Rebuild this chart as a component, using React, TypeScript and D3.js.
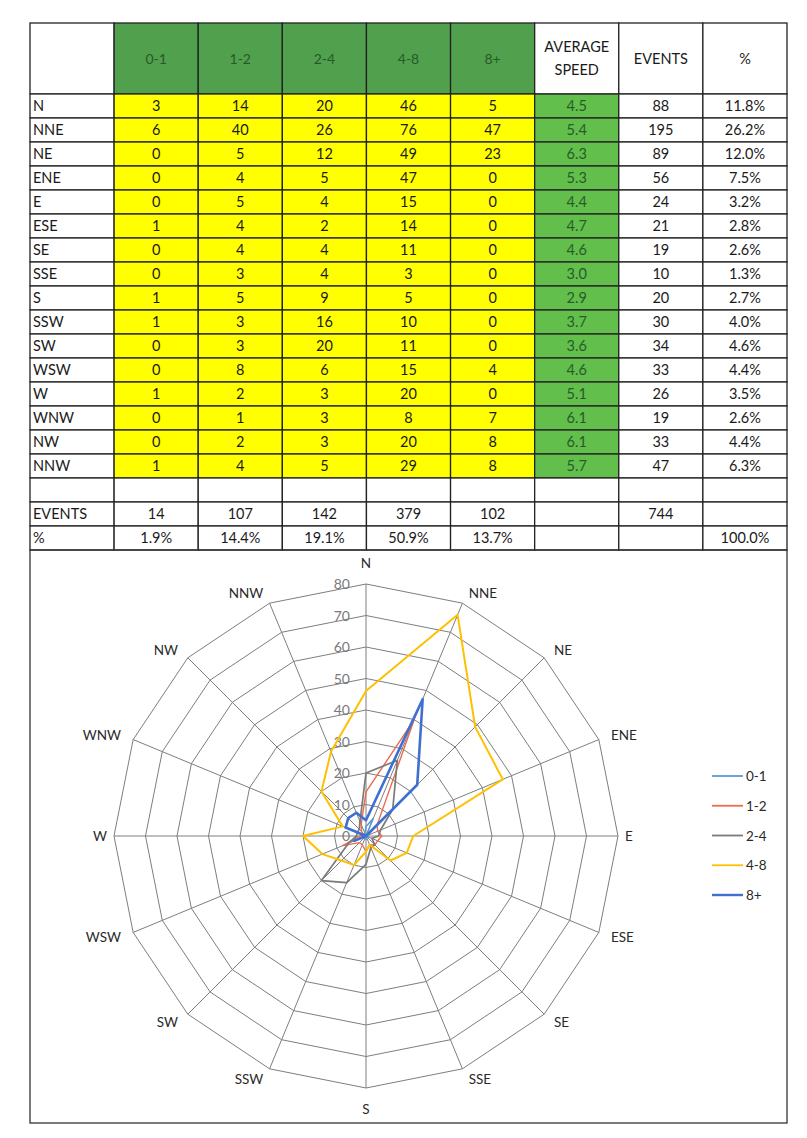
import React from 'react';
import * as d3 from 'd3';

// wind directions, clockwise from north
const directions = ['N', 'NNE', 'NE', 'ENE', 'E', 'ESE', 'SE', 'SSE', 'S', 'SSW', 'SW', 'WSW', 'W', 'WNW', 'NW', 'NNW'];
const speedBands = ['0-1', '1-2', '2-4', '4-8', '8+'];

const band01 = [3, 6, 0, 0, 0, 1, 0, 0, 1, 1, 0, 0, 1, 0, 0, 1];
const band12 = [14, 40, 5, 4, 5, 4, 4, 3, 5, 3, 3, 8, 2, 1, 2, 4];
const band24 = [20, 26, 12, 5, 4, 2, 4, 4, 9, 16, 20, 6, 3, 3, 3, 5];
const band48 = [46, 76, 49, 47, 15, 14, 11, 3, 5, 10, 11, 15, 20, 8, 20, 29];
const band8p = [5, 47, 23, 0, 0, 0, 0, 0, 0, 0, 0, 4, 0, 7, 8, 8];

const avgSpeed = ['4.5', '5.4', '6.3', '5.3', '4.4', '4.7', '4.6', '3.0', '2.9', '3.7', '3.6', '4.6', '5.1', '6.1', '6.1', '5.7'];
const events = [88, 195, 89, 56, 24, 21, 19, 10, 20, 30, 34, 33, 26, 19, 33, 47];
const percents = ['11.8%', '26.2%', '12.0%', '7.5%', '3.2%', '2.8%', '2.6%', '1.3%', '2.7%', '4.0%', '4.6%', '4.4%', '3.5%', '2.6%', '4.4%', '6.3%'];

const bandTotals = [14, 107, 142, 379, 102];
const bandPercents = ['1.9%', '14.4%', '19.1%', '50.9%', '13.7%'];
const totalEvents = 744;
const totalPercent = '100.0%';

const ringTicks = [0, 10, 20, 30, 40, 50, 60, 70, 80];

const seriesColors = ['#5B9BD5', '#ED6B4A', '#7A7A7A', '#FFC000', '#3F6FD0'];
const seriesWidths = [1.6, 1.4, 1.7, 2, 2.6];

const FONT = 'Lato, "Open Sans", sans-serif';

const App = () => {
  const series = [band01, band12, band24, band48, band8p];

  // ---- table layout
  const columns = ['label', ...speedBands, 'avg', 'events', 'pct'];
  const x = d3.scaleBand().domain(columns).range([30, 787]);
  const headerTop = 23;
  const headerBottom = 94;
  const rowKeys = [...directions, 'blank', 'EVENTS', '%'];
  const y = d3.scaleBand().domain(rowKeys).range([headerBottom, headerBottom + 24 * rowKeys.length]);
  const tableBottom = headerBottom + 24 * rowKeys.length;

  const cellText = (col, row) => {
    const i = directions.indexOf(row);
    if (i >= 0) {
      if (col === 'label') return row;
      const b = speedBands.indexOf(col);
      if (b >= 0) return String(series[b][i]);
      if (col === 'avg') return avgSpeed[i];
      if (col === 'events') return String(events[i]);
      return percents[i];
    }
    if (row === 'EVENTS') {
      if (col === 'label') return 'EVENTS';
      const b = speedBands.indexOf(col);
      if (b >= 0) return String(bandTotals[b]);
      if (col === 'events') return String(totalEvents);
      return '';
    }
    if (row === '%') {
      if (col === 'label') return '%';
      const b = speedBands.indexOf(col);
      if (b >= 0) return bandPercents[b];
      if (col === 'pct') return totalPercent;
      return '';
    }
    return '';
  };

  const cellFill = (col, row) => {
    if (directions.indexOf(row) < 0) return '#ffffff';
    if (speedBands.includes(col)) return '#FFFF00';
    if (col === 'avg') return '#62BF4C';
    return '#ffffff';
  };

  // ---- radar layout
  const cx = 366;
  const cy = 836;
  const R = 252;
  const r = d3.scaleLinear().domain([0, 80]).range([0, R]);
  const angle = d3.scaleLinear().domain([0, directions.length]).range([0, 2 * Math.PI]);

  const ringPath = (v) =>
    d3.lineRadial().angle((d, i) => angle(i)).radius(() => r(v)).curve(d3.curveLinearClosed)(directions);

  const seriesPath = (vals) =>
    d3.lineRadial().angle((d, i) => angle(i)).radius((d) => r(d)).curve(d3.curveLinearClosed)(vals);

  const legendY = d3.scalePoint().domain(speedBands).range([776, 895]);

  return (
    <svg width={807} height={1138} style={{ position: 'absolute', left: 0, top: 0, background: '#fff' }} fontFamily={FONT}>
      {/* header row */}
      {columns.map((c) => {
        const green = speedBands.includes(c);
        return (
          <g key={'h' + c}>
            <rect x={x(c)} y={headerTop} width={x.bandwidth()} height={headerBottom - headerTop} fill={green ? '#50A04E' : '#fff'} stroke="#222" strokeWidth={1.3} />
            {green && (
              <text x={x(c) + x.bandwidth() / 2} y={(headerTop + headerBottom) / 2 + 5} textAnchor="middle" fontSize={14} fill="#285A26">{c}</text>
            )}
          </g>
        );
      })}
      <text x={x('avg') + x.bandwidth() / 2} y={52} textAnchor="middle" fontSize={14.5} fill="#1a1a1a">AVERAGE</text>
      <text x={x('avg') + x.bandwidth() / 2} y={75} textAnchor="middle" fontSize={14.5} fill="#1a1a1a">SPEED</text>
      <text x={x('events') + x.bandwidth() / 2} y={64} textAnchor="middle" fontSize={14.5} fill="#1a1a1a">EVENTS</text>
      <text x={x('pct') + x.bandwidth() / 2} y={64} textAnchor="middle" fontSize={14.5} fill="#1a1a1a">%</text>

      {/* body */}
      {rowKeys.map((row) =>
        columns.map((c) => {
          const t = cellText(c, row);
          return (
            <g key={row + c}>
              <rect x={x(c)} y={y(row)} width={x.bandwidth()} height={y.bandwidth()} fill={cellFill(c, row)} stroke="#222" strokeWidth={1.3} />
              {t && (
                <text
                  x={c === 'label' ? x(c) + 3 : x(c) + x.bandwidth() / 2}
                  y={y(row) + y.bandwidth() / 2 + 5}
                  textAnchor={c === 'label' ? 'start' : 'middle'}
                  fontSize={14.5}
                  fill={c === 'avg' ? '#2B5A2A' : '#1a1a1a'}
                >
                  {t}
                </text>
              )}
            </g>
          );
        })
      )}

      {/* chart frame */}
      <rect x={30} y={tableBottom} width={757} height={1123 - tableBottom} fill="none" stroke="#333" strokeWidth={1.3} />

      <g transform={`translate(${cx},${cy})`}>
        {ringTicks.slice(1).map((v) => (
          <path key={'ring' + v} d={ringPath(v)} fill="none" stroke="#7E7E7E" strokeWidth={1} />
        ))}
        {directions.map((d, i) => {
          const a = angle(i);
          return <line key={'sp' + d} x1={0} y1={0} x2={R * Math.sin(a)} y2={-R * Math.cos(a)} stroke="#7E7E7E" strokeWidth={1} />;
        })}
        {ringTicks.map((v) => (
          <text key={'rt' + v} x={-16} y={-r(v) + 5} textAnchor="end" fontSize={14} fill="#7A7A7A">{v}</text>
        ))}
        {directions.map((d, i) => {
          const a = angle(i);
          const s = Math.sin(a);
          const c = Math.cos(a);
          const vx = R * s;
          const vy = -R * c;
          const vertical = Math.abs(s) < 0.01;
          const horizontal = Math.abs(c) < 0.01;
          const gap = horizontal ? 7 : 2 + 11 * Math.abs(s);
          const lx = vertical ? vx : vx + (s > 0 ? gap : -gap);
          const ly = vy - c * (vertical ? 21 : 11);
          return (
            <text key={'lab' + d} x={lx} y={ly + 5} textAnchor={vertical ? 'middle' : s > 0 ? 'start' : 'end'} fontSize={13.5} fill="#2a2a2a">
              {d}
            </text>
          );
        })}
        {series.map((vals, k) => (
          <path key={'s' + k} d={seriesPath(vals)} fill="none" stroke={seriesColors[k]} strokeWidth={seriesWidths[k]} strokeLinejoin="round" />
        ))}
      </g>

      {/* legend */}
      {speedBands.map((b, k) => (
        <g key={'lg' + b}>
          <line x1={712} x2={743} y1={legendY(b)} y2={legendY(b)} stroke={seriesColors[k]} strokeWidth={k === 4 ? 2.4 : 1.8} />
          <text x={746} y={legendY(b) + 5} fontSize={13.5} fill="#2a2a2a">{b}</text>
        </g>
      ))}
    </svg>
  );
};

export default App;
